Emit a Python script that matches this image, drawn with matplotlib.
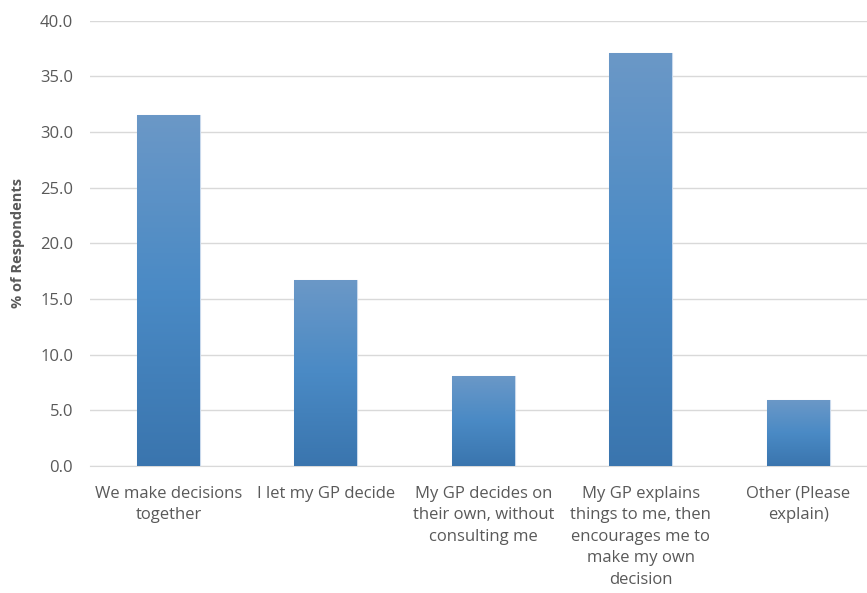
import matplotlib.pyplot as plt
import numpy as np
from matplotlib.colors import LinearSegmentedColormap

categories = [
    "We make decisions\ntogether",
    "I let my GP decide",
    "My GP decides on\ntheir own, without\nconsulting me",
    "My GP explains\nthings to me, then\nencourages me to\nmake my own\ndecision",
    "Other (Please\nexplain)",
]
percent = [31.5, 16.7, 8.1, 37.1, 5.9]
yticks = [0, 5, 10, 15, 20, 25, 30, 35, 40]

plt.rcParams["font.family"] = ["Open Sans", "DejaVu Sans"]
text_color = "#595959"

fig = plt.figure(figsize=(8.67, 5.93), dpi=100)
ax = fig.add_axes([0.1036, 0.214, 0.9077, 0.751])

x = np.arange(len(categories))
bars = ax.bar(x, percent, width=0.4, color="#4a86c0", edgecolor="#c9d9ec", linewidth=0.8, zorder=2)

# vertical gradient inside each bar: light at top, darker at bottom
cmap = LinearSegmentedColormap.from_list("bar_grad", ["#3a75ae", "#4a8ac5", "#6b98c7"])
grad = np.linspace(0, 1, 256).reshape(-1, 1)
for b in bars:
    x0, y0 = b.get_x(), b.get_y()
    w, h = b.get_width(), b.get_height()
    im = ax.imshow(grad, cmap=cmap, origin="lower", aspect="auto",
                   extent=(x0, x0 + w, y0, y0 + h), zorder=3)
    im.set_clip_path(b)

ax.set_xlim(-0.5, len(categories) - 0.5)
ax.set_ylim(0, 40)
ax.set_yticks(yticks)
ax.set_yticklabels([f"{v:.1f}" for v in yticks])
ax.set_xticks(x)
ax.set_xticklabels(categories, linespacing=1.47)
ax.tick_params(axis="both", length=0, colors=text_color, labelsize=12)
ax.tick_params(axis="x", pad=14)
ax.tick_params(axis="y", pad=12)
ax.yaxis.grid(True, color="#d9d9d9", linewidth=1, zorder=0)
ax.set_axisbelow(True)
for s in ["top", "right", "left"]:
    ax.spines[s].set_visible(False)
ax.spines["bottom"].set_color("#d9d9d9")

ax.set_ylabel("% of Respondents", color=text_color, fontsize=10.5, fontweight="bold")
ax.yaxis.set_label_coords(-0.082, 0.5)

fig.savefig("out.png", dpi=100)
